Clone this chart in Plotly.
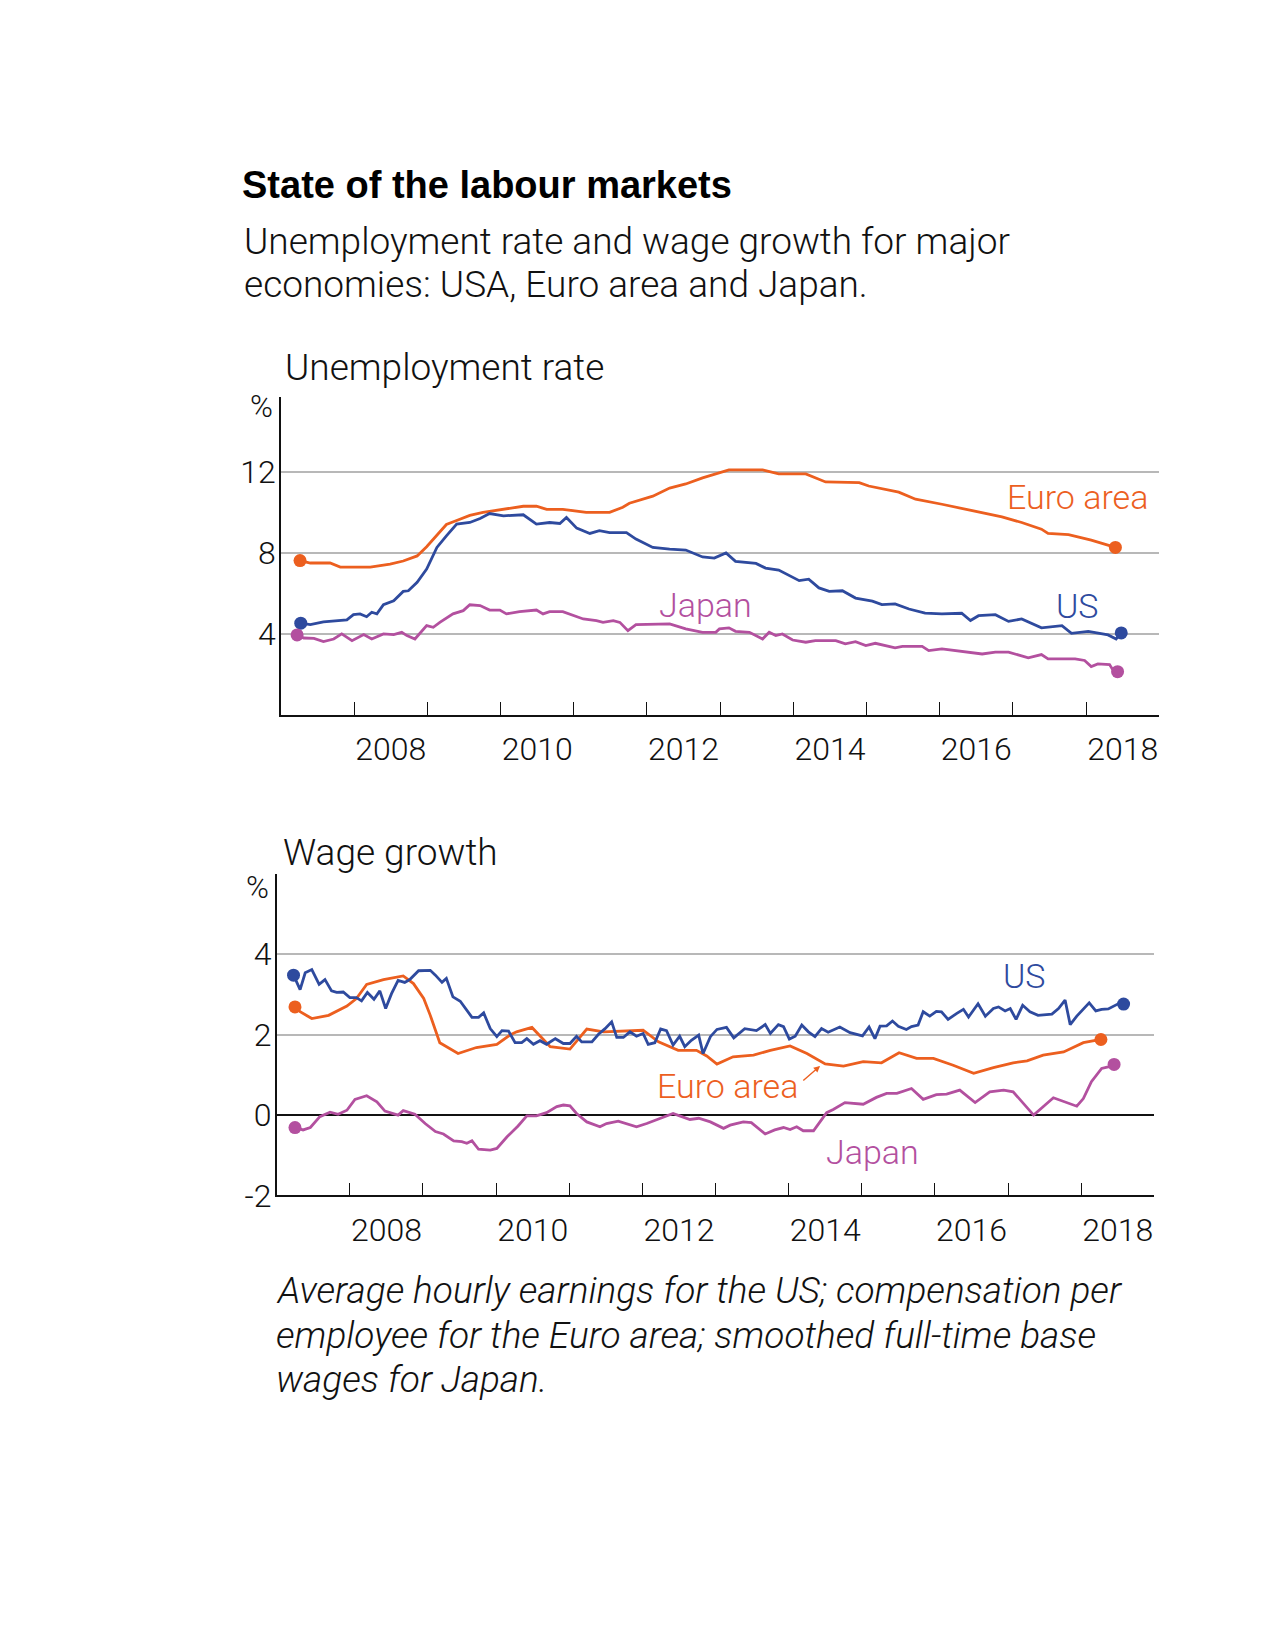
import plotly.graph_objects as go

# ---------------- data ----------------
# Unemployment rate, %
euro_unemp_x = [2007.26, 2007.40, 2007.67, 2007.81, 2008.22, 2008.36, 2008.49, 2008.67, 2008.86, 2008.99,
                2009.13, 2009.26, 2009.40, 2009.58, 2009.76, 2010.04, 2010.31, 2010.49, 2010.63, 2010.85,
                2011.17, 2011.49, 2011.67, 2011.76, 2012.08, 2012.31, 2012.53, 2012.76, 2012.99, 2013.12,
                2013.58, 2013.80, 2014.17, 2014.44, 2014.90, 2015.03, 2015.44, 2015.67, 2016.03, 2016.48,
                2016.85, 2017.12, 2017.39, 2017.48, 2017.76, 2018.07, 2018.40]
euro_unemp_y = [7.62, 7.5, 7.5, 7.3, 7.3, 7.38, 7.45, 7.6, 7.85, 8.3,
                8.9, 9.4, 9.6, 9.85, 10.0, 10.15, 10.3, 10.3, 10.15, 10.15,
                10.0, 10.0, 10.25, 10.45, 10.8, 11.2, 11.4, 11.7, 11.95, 12.1,
                12.1, 11.9, 11.9, 11.5, 11.47, 11.3, 11.0, 10.65, 10.4, 10.08,
                9.78, 9.5, 9.17, 8.96, 8.9, 8.63, 8.27]

us_unemp_x = [2007.27, 2007.40, 2007.58, 2007.90, 2007.99, 2008.08, 2008.17, 2008.24, 2008.31, 2008.40,
              2008.54, 2008.67, 2008.74, 2008.86, 2008.99, 2009.13, 2009.26, 2009.40, 2009.58, 2009.72,
              2009.85, 2010.04, 2010.31, 2010.49, 2010.67, 2010.81, 2010.90, 2011.04, 2011.22, 2011.35,
              2011.49, 2011.72, 2011.85, 2012.08, 2012.31, 2012.53, 2012.76, 2012.92, 2013.08, 2013.21,
              2013.49, 2013.62, 2013.80, 2014.08, 2014.21, 2014.35, 2014.49, 2014.67, 2014.85, 2014.99,
              2015.08, 2015.21, 2015.39, 2015.58, 2015.80, 2016.03, 2016.30, 2016.42, 2016.53, 2016.76,
              2016.94, 2017.12, 2017.39, 2017.67, 2017.80, 2018.03, 2018.30, 2018.41, 2018.48]
us_unemp_y = [4.53, 4.46, 4.6, 4.69, 4.95, 4.99, 4.85, 5.07, 4.99, 5.44,
              5.64, 6.1, 6.13, 6.55, 7.2, 8.27, 8.84, 9.42, 9.5, 9.7,
              9.94, 9.83, 9.88, 9.42, 9.5, 9.45, 9.75, 9.22, 8.96, 9.1,
              9.0, 9.0, 8.68, 8.27, 8.19, 8.14, 7.8, 7.74, 8.0, 7.58,
              7.48, 7.25, 7.15, 6.63, 6.7, 6.27, 6.1, 6.13, 5.77, 5.67,
              5.62, 5.45, 5.48, 5.23, 5.03, 4.99, 5.02, 4.66, 4.9, 4.95,
              4.62, 4.74, 4.3, 4.41, 4.03, 4.13, 3.95, 3.75, 4.05]

japan_unemp_x = [2007.22, 2007.31, 2007.45, 2007.58, 2007.72, 2007.83, 2007.97, 2008.13, 2008.24, 2008.40,
                 2008.54, 2008.65, 2008.72, 2008.83, 2008.99, 2009.08, 2009.17, 2009.35, 2009.49, 2009.58,
                 2009.72, 2009.85, 2009.99, 2010.08, 2010.26, 2010.49, 2010.58, 2010.67, 2010.85, 2011.13,
                 2011.31, 2011.40, 2011.54, 2011.63, 2011.74, 2011.85, 2012.31, 2012.53, 2012.76, 2012.94,
                 2012.99, 2013.12, 2013.21, 2013.40, 2013.58, 2013.67, 2013.76, 2013.85, 2013.99, 2014.17,
                 2014.30, 2014.58, 2014.71, 2014.85, 2014.99, 2015.12, 2015.39, 2015.49, 2015.76, 2015.85,
                 2016.03, 2016.30, 2016.58, 2016.76, 2016.94, 2017.21, 2017.39, 2017.48, 2017.85, 2017.98,
                 2018.07, 2018.16, 2018.32, 2018.37, 2018.43]
japan_unemp_y = [3.95, 3.8, 3.78, 3.62, 3.75, 4.0, 3.67, 3.97, 3.75, 4.0,
                 3.97, 4.08, 3.92, 3.75, 4.41, 4.33, 4.57, 4.99, 5.15, 5.44,
                 5.4, 5.18, 5.18, 4.99, 5.1, 5.18, 4.99, 5.1, 5.1, 4.74,
                 4.66, 4.57, 4.66, 4.57, 4.16, 4.46, 4.5, 4.25, 4.08, 4.08,
                 4.25, 4.3, 4.13, 4.08, 3.75, 4.08, 3.92, 4.0, 3.7, 3.59,
                 3.67, 3.67, 3.51, 3.62, 3.43, 3.54, 3.31, 3.39, 3.39, 3.18,
                 3.26, 3.15, 3.01, 3.1, 3.1, 2.82, 2.98, 2.77, 2.77, 2.69,
                 2.39, 2.52, 2.49, 2.2, 2.14]

# Wage growth, %
us_wage_x = [2007.23, 2007.32, 2007.39, 2007.48, 2007.58, 2007.66, 2007.75, 2007.82, 2007.91, 2008.00,
             2008.09, 2008.16, 2008.24, 2008.33, 2008.41, 2008.49, 2008.57, 2008.66, 2008.75, 2008.82,
             2008.94, 2009.03, 2009.10, 2009.17, 2009.26, 2009.32, 2009.41, 2009.51, 2009.60, 2009.67,
             2009.76, 2009.83, 2009.92, 2010.01, 2010.08, 2010.17, 2010.26, 2010.35, 2010.42, 2010.51,
             2010.60, 2010.69, 2010.81, 2010.92, 2011.01, 2011.10, 2011.17, 2011.31, 2011.40, 2011.49,
             2011.58, 2011.65, 2011.74, 2011.83, 2011.92, 2012.01, 2012.08, 2012.17, 2012.25, 2012.33,
             2012.42, 2012.51, 2012.58, 2012.67, 2012.77, 2012.83, 2012.93, 2013.02, 2013.15, 2013.25,
             2013.40, 2013.56, 2013.68, 2013.75, 2013.86, 2013.93, 2014.01, 2014.09, 2014.18, 2014.27,
             2014.36, 2014.45, 2014.54, 2014.70, 2014.84, 2015.01, 2015.10, 2015.18, 2015.25, 2015.34,
             2015.42, 2015.50, 2015.61, 2015.68, 2015.77, 2015.84, 2015.93, 2016.02, 2016.09, 2016.18,
             2016.30, 2016.39, 2016.46, 2016.59, 2016.69, 2016.80, 2016.87, 2016.96, 2017.03, 2017.11,
             2017.20, 2017.30, 2017.41, 2017.60, 2017.69, 2017.78, 2017.85, 2017.94, 2018.11, 2018.20,
             2018.28, 2018.37, 2018.50, 2018.58]
us_wage_y = [3.48, 3.12, 3.54, 3.62, 3.25, 3.37, 3.09, 3.05, 3.06, 2.92,
             2.92, 2.84, 3.05, 2.88, 3.09, 2.65, 3.02, 3.35, 3.3, 3.37,
             3.59, 3.6, 3.6, 3.48, 3.3, 3.4, 2.94, 2.83, 2.61, 2.43,
             2.43, 2.54, 2.15, 1.95, 2.1, 2.09, 1.8, 1.8, 1.9, 1.76,
             1.85, 1.76, 1.9, 1.78, 1.78, 1.96, 1.82, 1.82, 2.01, 2.15,
             2.32, 1.93, 1.93, 2.07, 1.96, 2.03, 1.76, 1.8, 2.14, 2.1,
             1.74, 1.96, 1.7, 1.86, 1.99, 1.53, 1.95, 2.13, 2.18, 1.92,
             2.15, 2.1, 2.25, 2.03, 2.25, 2.2, 1.89, 1.96, 2.24, 2.07,
             1.95, 2.15, 2.06, 2.19, 2.05, 1.97, 2.19, 1.9, 2.21, 2.22,
             2.34, 2.21, 2.13, 2.2, 2.24, 2.57, 2.46, 2.58, 2.57, 2.38,
             2.53, 2.63, 2.44, 2.77, 2.46, 2.65, 2.69, 2.59, 2.65, 2.38,
             2.73, 2.57, 2.48, 2.51, 2.65, 2.86, 2.25, 2.46, 2.79, 2.59,
             2.63, 2.64, 2.76, 2.76]

euro_wage_x = [2007.25, 2007.32, 2007.48, 2007.71, 2007.96, 2008.09, 2008.23, 2008.46, 2008.73, 2008.87,
               2009.01, 2009.10, 2009.23, 2009.48, 2009.73, 2010.01, 2010.19, 2010.28, 2010.49, 2010.74,
               2011.01, 2011.24, 2011.47, 2011.74, 2012.01, 2012.22, 2012.49, 2012.74, 2012.88, 2013.02,
               2013.24, 2013.52, 2013.75, 2014.02, 2014.25, 2014.50, 2014.75, 2015.02, 2015.27, 2015.51,
               2015.75, 2015.98, 2016.25, 2016.53, 2016.80, 2017.07, 2017.26, 2017.48, 2017.76, 2018.03,
               2018.27]
euro_wage_y = [2.69, 2.57, 2.4, 2.48, 2.71, 2.9, 3.25, 3.37, 3.46, 3.27,
               2.9, 2.48, 1.8, 1.53, 1.68, 1.76, 1.99, 2.07, 2.18, 1.7,
               1.64, 2.14, 2.07, 2.09, 2.11, 1.82, 1.61, 1.61, 1.47, 1.27,
               1.45, 1.49, 1.61, 1.72, 1.53, 1.27, 1.22, 1.33, 1.3, 1.55,
               1.41, 1.41, 1.24, 1.04, 1.18, 1.3, 1.35, 1.49, 1.57, 1.8,
               1.88]

japan_wage_x = [2007.25, 2007.36, 2007.46, 2007.59, 2007.73, 2007.84, 2007.96, 2008.07, 2008.23, 2008.37,
                2008.48, 2008.66, 2008.73, 2008.89, 2009.03, 2009.17, 2009.28, 2009.42, 2009.53, 2009.60,
                2009.67, 2009.76, 2009.92, 2010.01, 2010.15, 2010.30, 2010.42, 2010.55, 2010.69, 2010.83,
                2010.92, 2011.01, 2011.10, 2011.24, 2011.42, 2011.51, 2011.67, 2011.78, 2011.92, 2012.06,
                2012.20, 2012.42, 2012.51, 2012.65, 2012.77, 2012.93, 2013.11, 2013.20, 2013.38, 2013.49,
                2013.68, 2013.81, 2013.93, 2014.02, 2014.11, 2014.20, 2014.34, 2014.52, 2014.61, 2014.77,
                2015.02, 2015.20, 2015.34, 2015.48, 2015.68, 2015.84, 2016.02, 2016.16, 2016.34, 2016.55,
                2016.75, 2016.94, 2017.07, 2017.35, 2017.62, 2017.80, 2017.94, 2018.03, 2018.14, 2018.28,
                2018.37, 2018.45]
japan_wage_y = [-0.31, -0.37, -0.31, -0.04, 0.07, 0.02, 0.12, 0.39, 0.48, 0.33,
                0.1, 0.0, 0.11, 0.02, -0.21, -0.41, -0.47, -0.64, -0.66, -0.7,
                -0.64, -0.85, -0.87, -0.83, -0.54, -0.27, -0.02, -0.02, 0.06, 0.21,
                0.25, 0.23, 0.04, -0.17, -0.29, -0.21, -0.15, -0.22, -0.29, -0.21,
                -0.11, 0.04, -0.02, -0.11, -0.08, -0.17, -0.33, -0.25, -0.17, -0.19,
                -0.47, -0.37, -0.31, -0.36, -0.29, -0.39, -0.39, 0.06, 0.14, 0.31,
                0.27, 0.44, 0.54, 0.54, 0.66, 0.39, 0.51, 0.52, 0.62, 0.31,
                0.58, 0.62, 0.58, 0.0, 0.43, 0.31, 0.22, 0.41, 0.83, 1.16,
                1.2, 1.26]

year_ticks = [2008, 2009, 2010, 2011, 2012, 2013, 2014, 2015, 2016, 2017, 2018]
year_label_pos = [2008.5, 2010.5, 2012.5, 2014.5, 2016.5, 2018.5]
year_labels = ["2008", "2010", "2012", "2014", "2016", "2018"]
unemp_ticks = [4, 8, 12]
wage_ticks = [-2, 0, 2, 4]
wage_tick_labels = ["-2", "0", "2", "4"]

# ---------------- style ----------------
PAGE_W, PAGE_H = 1275, 1650
BODY_MARGIN = 8                      # default browser body margin around the plot div
EXTRA_LINE = 18
W = PAGE_W - 2 * BODY_MARGIN
H = PAGE_H - 2 * BODY_MARGIN - EXTRA_LINE
V_SCALE, V_OFF = 1.0108, 1.2         # vertical calibration of page positions
EURO = "#EC5F1F"
US = "#2E4A9E"
JAPAN = "#B3509F"
FONT = "Roboto"
LIGHT = 300
GRID = "#b8b8b8"


def px_x(p):
    """page pixel -> paper fraction"""
    return (p - BODY_MARGIN) / W


def px_y(p):
    p = p * V_SCALE + V_OFF
    return 1 - (p - BODY_MARGIN) / H


fig = go.Figure()


def add_series(x, y, color, xa, ya):
    fig.add_trace(go.Scatter(x=x, y=y, mode="lines", line=dict(color=color, width=2.8),
                             xaxis=xa, yaxis=ya, hoverinfo="skip", showlegend=False))
    fig.add_trace(go.Scatter(x=[x[0], x[-1]], y=[y[0], y[-1]], mode="markers",
                             marker=dict(color=color, size=13), xaxis=xa, yaxis=ya,
                             hoverinfo="skip", showlegend=False, cliponaxis=False))


add_series(euro_unemp_x, euro_unemp_y, EURO, "x", "y")
add_series(us_unemp_x, us_unemp_y, US, "x", "y")
add_series(japan_unemp_x, japan_unemp_y, JAPAN, "x", "y")
add_series(euro_wage_x, euro_wage_y, EURO, "x2", "y2")
add_series(japan_wage_x, japan_wage_y, JAPAN, "x2", "y2")
add_series(us_wage_x, us_wage_y, US, "x2", "y2")

tick_font = dict(family=FONT, size=32, color="#111111", weight=LIGHT)

xaxis_common = dict(
    range=[2007, 2019], tickmode="array", tickvals=year_label_pos, ticktext=year_labels,
    ticks="", showgrid=False, zeroline=False, showline=True, linecolor="#111111", linewidth=1.6,
    tickfont=tick_font, ticklabelstandoff=5, fixedrange=True,
    minor=dict(tickmode="array", tickvals=year_ticks, ticks="inside", ticklen=13,
               tickwidth=1.4, tickcolor="#111111", showgrid=False),
)

fig.update_layout(
    width=W, height=H, margin=dict(l=0, r=0, t=0, b=0),
    paper_bgcolor="white", plot_bgcolor="white", showlegend=False,
    xaxis=dict(domain=[px_x(281), px_x(1159.3)], anchor="y", **xaxis_common),
    yaxis=dict(domain=[px_y(714.5), px_y(396.6)], anchor="x", range=[0, 15.67],
               tickmode="array", tickvals=unemp_ticks, ticks="", showgrid=True,
               gridcolor=GRID, gridwidth=1.5, zeroline=False, showline=True,
               linecolor="#111111", linewidth=1.6, tickfont=tick_font,
               ticklabelstandoff=-3, fixedrange=True),
    xaxis2=dict(domain=[px_x(276.7), px_x(1154.3)], anchor="y2", **xaxis_common),
    yaxis2=dict(domain=[px_y(1195.5), px_y(873.5)], anchor="x2", range=[-2, 6],
                tickmode="array", tickvals=wage_ticks, ticktext=wage_tick_labels, ticks="",
                showgrid=True, gridcolor=GRID, gridwidth=1.5, zeroline=True,
                zerolinecolor="#111111", zerolinewidth=1.8, showline=True,
                linecolor="#111111", linewidth=1.6, tickfont=tick_font,
                ticklabelstandoff=-3, fixedrange=True),
)

annotations = []


def paper_text(text, x, y, size, weight=LIGHT, italic=False, color="#111111", xanchor="left"):
    annotations.append(dict(
        text=text, x=px_x(x), y=px_y(y), xref="paper", yref="paper",
        xanchor=xanchor, yanchor="middle", showarrow=False,
        font=dict(family=FONT, size=size, color=color, weight=weight,
                  style="italic" if italic else "normal")))


# titles
annotations.append(dict(text="State of the labour markets", x=px_x(240), y=px_y(184),
                        xref="paper", yref="paper", xanchor="left", yanchor="middle",
                        showarrow=False,
                        font=dict(family="Liberation Sans", size=38, color="#000000", weight="bold")))
paper_text("Unemployment rate and wage growth for major", 242, 240, 37)
paper_text("economies: USA, Euro area and Japan.", 242, 284, 37)
paper_text("Unemployment rate", 283, 367, 37)
paper_text("Wage growth", 281, 852, 37)
paper_text("%", 261, 406, 31, xanchor="center")
paper_text("%", 257, 887, 31, xanchor="center")
paper_text("Average hourly earnings for the US; compensation per", 274, 1291, 37, italic=True)
paper_text("employee for the Euro area; smoothed full-time base", 274, 1336, 37, italic=True)
paper_text("wages for Japan.", 274, 1380, 37, italic=True)


def series_label(text, x, y, color, xref, yref):
    annotations.append(dict(text=text, x=x, y=y, xref=xref, yref=yref, xanchor="center",
                            yanchor="middle", showarrow=False,
                            font=dict(family=FONT, size=34, color=color, weight=LIGHT)))


series_label("Euro area", 2017.88, 10.75, EURO, "x", "y")
series_label("US", 2017.88, 5.4, US, "x", "y")
series_label("Japan", 2012.80, 5.45, JAPAN, "x", "y")
series_label("US", 2017.23, 3.45, US, "x2", "y2")
series_label("Euro area", 2013.16, 0.72, EURO, "x2", "y2")
series_label("Japan", 2015.14, -0.92, JAPAN, "x2", "y2")

# arrow from Euro area label to its wage line
annotations.append(dict(text="", x=2014.43, y=1.22, ax=2014.18, ay=0.83, xref="x2", yref="y2",
                        axref="x2", ayref="y2", showarrow=True, arrowhead=2, arrowsize=0.9,
                        arrowwidth=1.4, arrowcolor=EURO))

fig.update_layout(annotations=annotations)

fig.write_html("out.html")
